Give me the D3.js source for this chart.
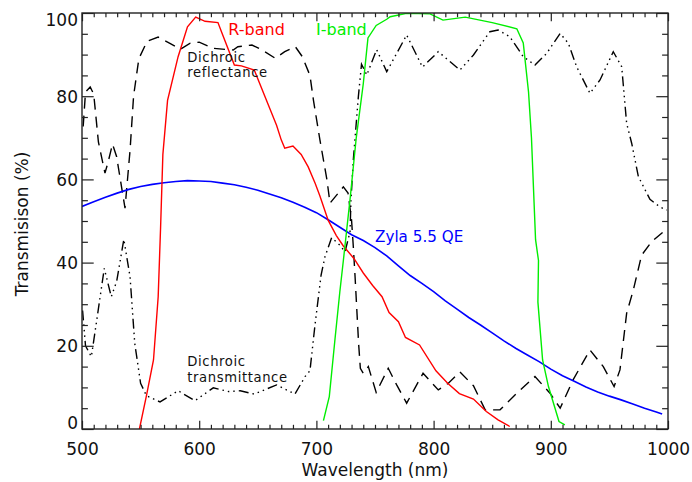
<!DOCTYPE html>
<html><head><meta charset="utf-8">
<script src="https://cdn.jsdelivr.net/npm/d3@7"></script>
<style>body{margin:0;background:#fff}svg{display:block}</style>
</head><body>
<svg id="chart" width="692" height="482"></svg>
<script>
// ---- data (wavelength nm, percent) ----
const xTicks = [500, 600, 700, 800, 900, 1000];
const yTicks = [0, 20, 40, 60, 80, 100];

const zylaQE = [[500,53.5],[510,54.6],[520,55.7],[530,56.7],[540,57.6],[550,58.3],[560,58.8],[570,59.2],[580,59.5],[590,59.7],[600,59.6],[610,59.5],[620,59.1],[630,58.7],[640,58.1],[650,57.4],[660,56.5],[670,55.6],[680,54.5],[690,53.3],[700,52.0],[710,50.3],[720,48.5],[730,46.7],[740,45.3],[750,43.6],[760,41.6],[770,39.2],[780,36.9],[790,35.0],[800,33.0],[810,30.8],[820,28.8],[830,26.8],[840,25.0],[850,23.1],[860,21.2],[870,19.4],[880,17.8],[890,16.2],[900,14.4],[910,12.8],[920,11.5],[930,10.1],[940,8.9],[950,7.9],[960,7.0],[970,6.0],[980,5.0],[990,4.1],[995,3.6]];

const rBand = [[549,0],[555,8],[561,16.6],[565,31.8],[567,48],[569,66],[573,79],[582,89.5],[590,96.7],[597,99],[605,98],[616,97.7],[619,95.5],[630,87.5],[636,87.3],[647,86.3],[656,80],[666,73],[670,69.5],[673,67.5],[680,68],[687,66],[693,63],[699,59],[703,56],[710,50.2],[717,46.5],[723,44],[732,41],[740,37.5],[748,34.5],[756,31.8],[762,28],[770,25.8],[776,22],[788,20.2],[802,14],[812,11],[822,8.5],[834,7.2],[845,4.2],[855,2.2],[865,0.6]];

const iBand = [[706,2],[711,7.8],[716,22],[720,33],[723,40.5],[729,56],[734,70],[740,83],[744,94],[751,97],[760,98.5],[763,99.1],[777,99.9],[797,99.8],[808,98.3],[827,99],[850,97.7],[871,96.2],[876.5,92.8],[881,81],[883.5,70],[887,45.5],[889.5,40.5],[889,30.5],[893,16.6],[898,10.2],[907,1.8],[912,1.0]];

const dichroicReflectance = [[501,72.7],[503,81],[507,82.2],[510,80.5],[514,69],[519.6,61.5],[522.4,64.3],[526,68.5],[529.5,65.5],[536.7,53.1],[541,67],[544,80],[548.5,89],[555.5,93.2],[565,94.2],[575,92.7],[584,91.3],[592,92.7],[600,93],[612,91.5],[629,91.1],[633,91.9],[645,92.3],[653,91.2],[665,89.1],[673,90.7],[682,91.9],[688,89.5],[694.5,85],[697.5,79],[703,69.5],[709,59.9],[711.6,54.3],[716,55.8],[723,58.2],[727,56.7],[730,50.2],[731.5,43.8],[733,36.6],[736,20.6],[737.5,14.6],[740,13.4],[744.3,15],[751,8.8],[761.3,14.6],[768.5,10.6],[777,6.2],[791,13.4],[804,9.4],[812.6,11],[822.5,13.7],[834,10.4],[844,4.6],[856.7,4.6],[871,8.6],[886.5,12.6],[899.3,8.6],[908,5],[919,11.8],[933.4,19],[944.8,15],[954,10.2],[959,14.2],[964.7,27.8],[970.4,33.4],[977.5,41.8],[986,45],[996,47.4],[1000,47.7]];

const dichroicTransmittance = [[500.5,28.5],[503,20],[508,17.4],[512.5,26],[519,38.6],[525,31.8],[529.6,35.5],[535.7,45.6],[541,36.6],[545,20.6],[550,11],[555,8],[566.6,6.5],[582,9.2],[596.4,6.8],[612,9.9],[625,9],[635,9.2],[647,8.4],[666,10.6],[681.7,8.4],[690.3,12.6],[694.5,14],[698.8,25],[704,37],[707.3,41.4],[713,46],[720,44.2],[724.4,42.6],[728.7,47.4],[729.5,55],[731.5,64.7],[735.8,79.9],[738.5,87.7],[743,85.1],[751.4,91.2],[760,85.9],[777,94.7],[790.5,87],[804,90.7],[822.5,86.3],[834,89.9],[848,95.5],[855,95.9],[865,94.3],[876.5,89.5],[886.5,87.5],[896.5,90.3],[908,95.1],[915,92.7],[922,87.1],[933.4,80.7],[942,83.9],[953.3,90.7],[960.5,87.1],[964.7,73.5],[969,68.7],[974.7,60.7],[984.6,55.2],[993,53.4],[999,52.6]];

// ---- layout ----
const W = 692, H = 482;
const m = {left: 82, top: 13, right: 24, bottom: 53};
const pw = W - m.left - m.right, ph = H - m.top - m.bottom;
const FONT = "'DejaVu Sans', sans-serif";

const svg = d3.select("#chart");
const g = svg.append("g").attr("transform", `translate(${m.left},${m.top})`);

const x = d3.scaleLinear().domain([500, 1000]).range([0, pw]);
const y = d3.scaleLinear().domain([0, 100]).range([ph, 0]);

svg.append("defs").append("clipPath").attr("id", "clip")
  .append("rect").attr("width", pw).attr("height", ph);

const line = d3.line().x(d => x(d[0])).y(d => y(d[1]));
const plot = g.append("g").attr("clip-path", "url(#clip)");

const series = [
  {data: dichroicReflectance, color: "#000", dash: "11,7", w: 1.4},
  {data: dichroicTransmittance, color: "#000", dash: "10,4,1.5,4,1.5,4,1.5,4", w: 1.4},
  {data: zylaQE, color: "#0000ff", dash: null, w: 1.6},
  {data: rBand, color: "#ff0000", dash: null, w: 1.4},
  {data: iBand, color: "#00ee00", dash: null, w: 1.4}
];
series.forEach(s => {
  plot.append("path").datum(s.data).attr("d", line)
    .attr("fill", "none").attr("stroke", s.color)
    .attr("stroke-width", s.w).attr("stroke-dasharray", s.dash);
});

// ---- axes (IDL-style inward ticks) ----
const xMajorLen = 8.3, xMinorLen = 4.2, yMajorLen = 11.7, yMinorLen = 5.9;
const xMinor = d3.range(500, 1001, 10).filter(v => !xTicks.includes(v));
const yMinor = d3.range(0, 101, 5).filter(v => !yTicks.includes(v));

function styleAxis(sel) {
  sel.select(".domain").remove();
  sel.selectAll("line").attr("stroke", "#222").attr("stroke-width", 1.2);
  sel.selectAll("text").attr("font-family", FONT).attr("font-size", 17).attr("fill", "#111");
}

g.append("g").attr("transform", `translate(0,${ph})`)
  .call(d3.axisBottom(x).tickValues(xTicks).tickSizeInner(-xMajorLen).tickSizeOuter(0).tickPadding(14).tickFormat(d3.format("d")))
  .call(styleAxis);
g.append("g").attr("transform", `translate(0,${ph})`)
  .call(d3.axisBottom(x).tickValues(xMinor).tickSizeInner(-xMinorLen).tickSizeOuter(0).tickFormat(""))
  .call(styleAxis);
g.append("g")
  .call(d3.axisTop(x).tickValues(xTicks).tickSizeInner(-xMajorLen).tickSizeOuter(0).tickFormat(""))
  .call(styleAxis);
g.append("g")
  .call(d3.axisTop(x).tickValues(xMinor).tickSizeInner(-xMinorLen).tickSizeOuter(0).tickFormat(""))
  .call(styleAxis);

const yAx = g.append("g")
  .call(d3.axisLeft(y).tickValues(yTicks).tickSizeInner(-yMajorLen).tickSizeOuter(0).tickPadding(4).tickFormat(d3.format("d")))
  .call(styleAxis);
yAx.selectAll(".tick text").attr("dy", d => d === 0 ? "-0.02em" : d === 100 ? "0.72em" : "0.36em");
g.append("g")
  .call(d3.axisLeft(y).tickValues(yMinor).tickSizeInner(-yMinorLen).tickSizeOuter(0).tickFormat(""))
  .call(styleAxis);
g.append("g").attr("transform", `translate(${pw},0)`)
  .call(d3.axisRight(y).tickValues(yTicks).tickSizeInner(-yMajorLen).tickSizeOuter(0).tickFormat(""))
  .call(styleAxis);
g.append("g").attr("transform", `translate(${pw},0)`)
  .call(d3.axisRight(y).tickValues(yMinor).tickSizeInner(-yMinorLen).tickSizeOuter(0).tickFormat(""))
  .call(styleAxis);

g.append("rect").attr("width", pw).attr("height", ph)
  .attr("fill", "none").attr("stroke", "#222").attr("stroke-width", 1.4);

// ---- titles ----
svg.append("text").attr("x", m.left + pw / 2).attr("y", 476)
  .attr("text-anchor", "middle").attr("font-family", FONT).attr("font-size", 17).attr("fill", "#111")
  .text("Wavelength (nm)");
svg.append("text").attr("transform", `translate(28,${m.top + ph / 2 + 3}) rotate(-90)`)
  .attr("text-anchor", "middle").attr("font-family", FONT).attr("font-size", 17).attr("fill", "#111")
  .text("Transmisison (%)");

// ---- annotations ----
const notes = [
  {lines: ["R-band"], bx: 228.3, by: 35, c: "#ff0000", fs: 16, ls: 0, lh: 0},
  {lines: ["I-band"], bx: 316, by: 35, c: "#00ee00", fs: 16, ls: 0, lh: 0},
  {lines: ["Dichroic", "reflectance"], bx: 187.3, by: 61.8, c: "#111", fs: 13.2, ls: 0.6, lh: 15.6},
  {lines: ["Dichroic", "transmittance"], bx: 187.3, by: 366.3, c: "#111", fs: 13.2, ls: 0.6, lh: 15.6},
  {lines: ["Zyla 5.5 QE"], bx: 375, by: 242, c: "#0000ff", fs: 15.2, ls: 0, lh: 0}
];
notes.forEach(n => {
  n.lines.forEach((s, i) => {
    svg.append("text").attr("x", n.bx).attr("y", n.by + i * n.lh)
      .attr("font-family", FONT).attr("font-size", n.fs).attr("fill", n.c)
      .attr("letter-spacing", n.ls)
      .text(s);
  });
});
</script>
</body></html>
